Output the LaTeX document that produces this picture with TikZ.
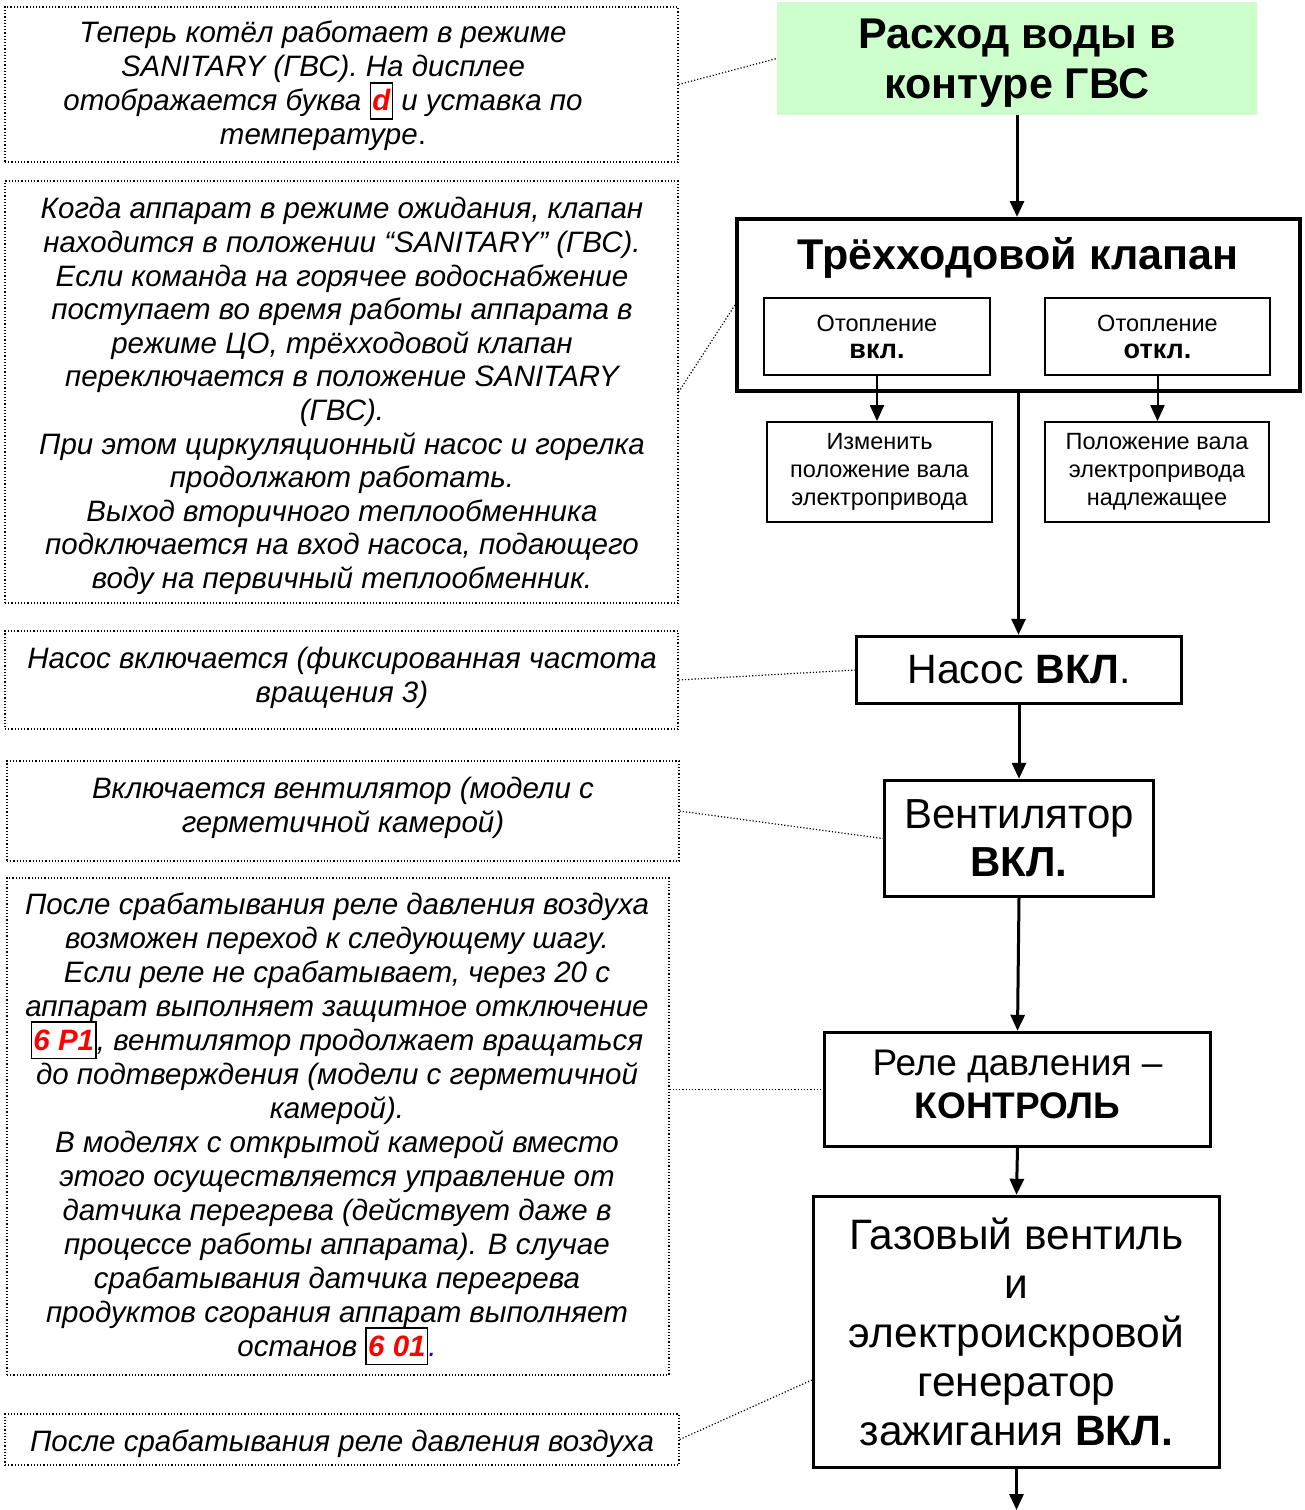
\documentclass[tikz,border=0pt]{standalone}
\usepackage{fontspec}
\setmainfont{Liberation Sans}
\usetikzlibrary{arrows.meta}
\definecolor{gvsgreen}{HTML}{CCFFCC}
\setlength{\fboxsep}{0.6pt}
\setlength{\fboxrule}{0.8pt}
\newcommand\redcode[1]{\fbox{\rule[-0.22em]{0pt}{1.1em}\color{red}\bfseries\itshape #1}}
\newcommand\notefont{\fontsize{14.75pt}{17pt}\selectfont\itshape\lineskiplimit=-20pt\lineskip=0pt}
\newcommand\smallfont{\fontsize{11.75pt}{13.5pt}\selectfont}
\newcommand\bigbold[1]{{\fontsize{13.5pt}{13.5pt}\selectfont\bfseries #1}}
\begin{document}
\begin{tikzpicture}[x=0.5pt,y=-0.5pt,
  note/.style={draw, line width=0.6pt, dash pattern=on 0.6pt off 1pt, inner sep=0pt},
  notetext/.style={align=center, inner sep=0pt, font=\notefont},
  stepbox/.style={draw, line width=1.7pt, align=center, inner sep=0pt},
  steptext/.style={align=center, inner sep=0pt},
  smallbox/.style={draw, line width=0.9pt, align=center, inner sep=0pt, font=\smallfont},
  flow/.style={line width=1.5pt, -{Triangle[length=8pt,width=7pt]}},
  thinflow/.style={line width=1pt, -{Triangle[length=8pt,width=7pt]}},
  link/.style={line width=0.6pt, dash pattern=on 0.6pt off 1pt},
]
\useasboundingbox (0,0) rectangle (1305,1510);

% ---------- left notes ----------
\node[note, minimum width=336.5pt, minimum height=77.5pt] (n1) at (341.5,84.5) {};
\node[notetext] (t1) at (323,86) {Теперь котёл работает в режиме\\
SANITARY (ГВС). На дисплее\\
отображается буква \redcode{d} и уставка по\\
температуре{\upshape .}};

\node[note, minimum width=336.5pt, minimum height=211pt] (n2) at (341.5,392) {};
\node[notetext, font=\fontsize{14.75pt}{16.8pt}\selectfont\itshape] (t2) at (342,396) {Когда аппарат в режиме ожидания, клапан\\
находится в положении “SANITARY” (ГВС).\\
Если команда на горячее водоснабжение\\
поступает во время работы аппарата в\\
режиме ЦО, трёхходовой клапан\\
переключается в положение SANITARY\\
(ГВС).\\
При этом циркуляционный насос и горелка\\
продолжают работать.\\
Выход вторичного теплообменника\\
подключается на вход насоса, подающего\\
воду на первичный теплообменник.};

\node[note, minimum width=336.5pt, minimum height=49pt] (n3) at (341.5,680) {};
\node[notetext] (t3) at (342,677.5) {Насос включается (фиксированная частота\\
вращения 3)};

\node[note, minimum width=336pt, minimum height=50pt] (n4) at (343,811) {};
\node[notetext] (t4) at (343,807.5) {Включается вентилятор (модели с\\
герметичной камерой)};

\node[note, minimum width=331pt, minimum height=248.5pt] (n5) at (338,1126.5) {};
\node[notetext] (t5) at (337,1129) {После срабатывания реле давления воздуха\\
возможен переход к следующему шагу.\\
Если реле не срабатывает, через 20 с\\
аппарат выполняет защитное отключение\\
\redcode{6 P1}, вентилятор продолжает вращаться\\
до подтверждения (модели с герметичной\\
камерой).\\
В моделях с открытой камерой вместо\\
этого осуществляется управление от\\
датчика перегрева (действует даже в\\
процессе работы аппарата). В случае\\
срабатывания датчика перегрева\\
продуктов сгорания аппарат выполняет\\
останов \redcode{6 01}{\color{blue}.}};

\node[note, minimum width=337pt, minimum height=25.5pt] (n6) at (342,1439.5) {};
\node[notetext] (t6) at (342,1444) {После срабатывания реле давления воздуха};

% ---------- right flow ----------
\node[fill=gvsgreen, minimum width=240pt, minimum height=56.5pt, inner sep=0pt] (a) at (1017,58.5) {};
\node[steptext, font=\fontsize{21.5pt}{24.75pt}\selectfont\bfseries] (atext) at (1017,63)
      {Расход воды в\\ контуре ГВС};

\node[draw, line width=2pt, minimum width=281.5pt, minimum height=86pt, inner sep=0pt] (b) at (1018.5,305) {};
\node[font=\fontsize{21.5pt}{25pt}\selectfont\bfseries, inner sep=0pt] (btitle) at (1018,258) {Трёхходовой клапан};
\node[smallbox, minimum width=113pt, minimum height=38.5pt] (b1) at (877,336.5) {Отопление\\ \bigbold{вкл.}};
\node[smallbox, minimum width=112.5pt, minimum height=38.5pt] (b2) at (1157.5,336.5) {Отопление\\ \bigbold{откл.}};

\node[smallbox, minimum width=112.5pt, minimum height=50pt, font=\fontsize{11.75pt}{14pt}\selectfont] (c) at (879.5,472)
      {Изменить\\ положение вала\\ электропривода};
\node[smallbox, minimum width=112pt, minimum height=50pt, font=\fontsize{11.75pt}{14pt}\selectfont] (d) at (1157,472)
      {Положение вала\\ электропривода\\ надлежащее};

\node[stepbox, minimum width=162.5pt, minimum height=33.5pt, font=\fontsize{20.5pt}{24pt}\selectfont] (e) at (1019,670)
      {Насос \textbf{ВКЛ}.};
\node[stepbox, minimum width=134.5pt, minimum height=58pt, font=\fontsize{21pt}{24pt}\selectfont] (f) at (1019,838.5)
      {Вентилятор\\ \textbf{ВКЛ.}};
\node[stepbox, minimum width=193pt, minimum height=57pt] (g) at (1017.5,1089.5) {};
\node[steptext, font=\fontsize{18.5pt}{21.5pt}\selectfont] (gtext) at (1017.5,1084)
      {Реле давления –\\ \textbf{КОНТРОЛЬ}};
\node[stepbox, minimum width=203pt, minimum height=135.5pt, font=\fontsize{21.25pt}{24.5pt}\selectfont] (h) at (1016.5,1332)
      {Газовый вентиль\\ и\\ электроискровой\\ генератор\\ зажигания \textbf{ВКЛ.}};
\coordinate (hend) at (1016.5,1510);

% ---------- arrows ----------
\draw[flow] (a.south) -- (a.south |- b.north);
\draw[flow] (b.south) -- (b.south |- e.north);
\draw[thinflow] (b1.south) -- (c.north -| b1.south);
\draw[thinflow] (b2.south) -- (d.north -| b2.south);
\draw[flow] (e.south) -- (f.north);
\draw[flow] (f.south) -- (g.north);
\draw[flow] (g.south) -- (h.north);
\draw[flow] (h.south) -- (hend);

% ---------- dotted links ----------
\draw[link] (n1.east) -- (a.west);
\draw[link] (n2.east) -- (b.west);
\draw[link] (n3.east) -- (e.west);
\draw[link] (n4.east) -- (f.west);
\draw[link] (n5.east |- g.west) -- (g.west);
\draw[link] (n6.east) -- ([yshift=-24pt]h.west);
\end{tikzpicture}
\end{document}
